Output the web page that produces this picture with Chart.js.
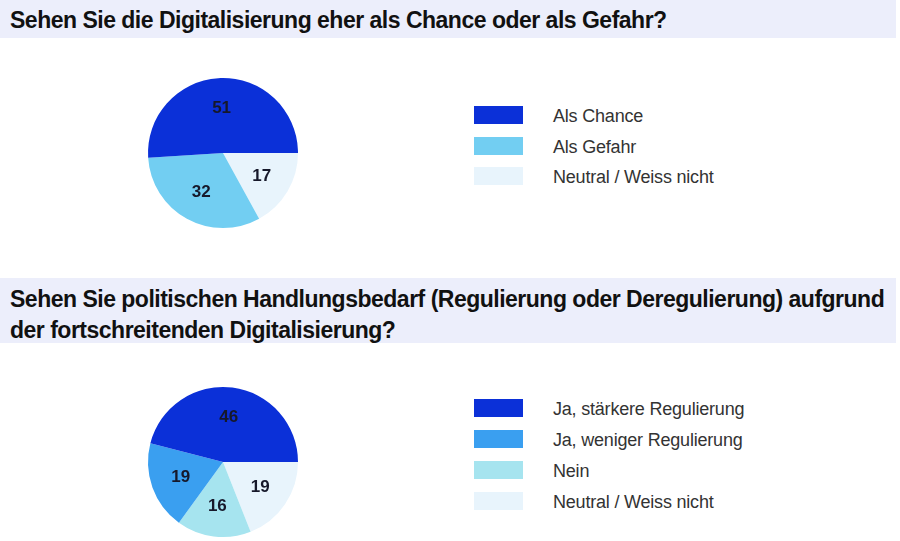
<!DOCTYPE html>
<html lang="de">
<head>
    <meta charset="UTF-8">
    <title>Digitalisierung – Umfrage</title>
    <script src="https://cdn.jsdelivr.net/npm/chart.js"></script>
    <style>
        body {
            margin: 0;
            width: 900px;
            height: 541px;
            background: #ffffff;
            font-family: "Liberation Sans", Arial, sans-serif;
            position: relative;
            overflow: hidden;
        }
        .band {
            position: absolute;
            left: 0;
            width: 896px;
            background: #eceefb;
        }
        .title {
            position: absolute;
            left: 10px;
            font-weight: bold;
            font-size: 23px;
            letter-spacing: -0.5px;
            color: #111111;
            white-space: nowrap;
        }
        .pie {
            position: absolute;
            width: 160px;
            height: 160px;
        }
        .legend {
            position: absolute;
            left: 474px;
        }
        .legend .row {
            position: absolute;
            left: 0;
            height: 18px;
            white-space: nowrap;
        }
        .legend .box {
            position: absolute;
            left: 0;
            top: 0;
            width: 49px;
            height: 18px;
        }
        .legend .txt {
            position: absolute;
            left: 79px;
            top: -1px;
            font-size: 18px;
            line-height: 22px;
            letter-spacing: -0.2px;
            color: #333333;
        }
    </style>
</head>
<body>
    <div class="band" style="top:0; height:38px;"></div>
    <div class="title" style="top:5px; line-height:30px;">Sehen Sie die Digitalisierung eher als Chance oder als Gefahr?</div>
    <div class="pie" style="left:143px; top:73px;"><canvas id="pie1"></canvas></div>
    <div class="legend" id="legend1" style="top:106px;"></div>

    <div class="band" style="top:278px; height:65px;"></div>
    <div class="title" style="top:284px; line-height:31px;">Sehen Sie politischen Handlungsbedarf (Regulierung oder Deregulierung) aufgrund<br>der fortschreitenden Digitalisierung?</div>
    <div class="pie" style="left:143px; top:382px;"><canvas id="pie2"></canvas></div>
    <div class="legend" id="legend2" style="top:399px;"></div>

    <script>
        // Frage 1
        const labels1 = ['Als Chance', 'Als Gefahr', 'Neutral / Weiss nicht'];
        const values1 = [51, 32, 17];
        const colors1 = ['#0b30d8', '#72cef2', '#e8f4fc'];

        // Frage 2
        const labels2 = ['Ja, stärkere Regulierung', 'Ja, weniger Regulierung', 'Nein', 'Neutral / Weiss nicht'];
        const values2 = [46, 19, 16, 19];
        const colors2 = ['#0b30d8', '#3a9ff0', '#a6e4ef', '#e8f4fc'];

        // draws the value inside each slice
        const sliceLabels = {
            id: 'sliceLabels',
            afterDatasetsDraw(chart) {
                const ctx = chart.ctx;
                const meta = chart.getDatasetMeta(0);
                const data = chart.data.datasets[0].data;
                ctx.save();
                ctx.font = 'bold 17px "Liberation Sans", Arial, sans-serif';
                ctx.fillStyle = '#16182a';
                ctx.textAlign = 'center';
                ctx.textBaseline = 'middle';
                meta.data.forEach((arc, i) => {
                    const p = arc.getProps(['x', 'y', 'startAngle', 'endAngle', 'outerRadius'], true);
                    const mid = (p.startAngle + p.endAngle) / 2;
                    const r = p.outerRadius * 0.6;
                    ctx.fillText(data[i], p.x + Math.cos(mid) * r, p.y + Math.sin(mid) * r);
                });
                ctx.restore();
            }
        };

        function makePie(id, labels, values, colors) {
            // the source draws counter-clockwise from 3 o'clock,
            // so feed the slices reversed and start at 90 degrees
            new Chart(document.getElementById(id), {
                type: 'pie',
                data: {
                    labels: labels.slice().reverse(),
                    datasets: [{
                        data: values.slice().reverse(),
                        backgroundColor: colors.slice().reverse(),
                        borderWidth: 0
                    }]
                },
                options: {
                    responsive: true,
                    maintainAspectRatio: false,
                    animation: false,
                    rotation: 90,
                    layout: { padding: 5 },
                    plugins: {
                        legend: { display: false },
                        tooltip: { enabled: false }
                    }
                },
                plugins: [sliceLabels]
            });
        }

        function makeLegend(id, labels, colors, step) {
            const el = document.getElementById(id);
            labels.forEach((label, i) => {
                const row = document.createElement('div');
                row.className = 'row';
                row.style.top = (i * step) + 'px';
                row.innerHTML = '<div class="box" style="background:' + colors[i] + '"></div>' +
                    '<div class="txt">' + label + '</div>';
                el.appendChild(row);
            });
        }

        makePie('pie1', labels1, values1, colors1);
        makePie('pie2', labels2, values2, colors2);
        makeLegend('legend1', labels1, colors1, 30.5);
        makeLegend('legend2', labels2, colors2, 31);
    </script>
</body>
</html>
